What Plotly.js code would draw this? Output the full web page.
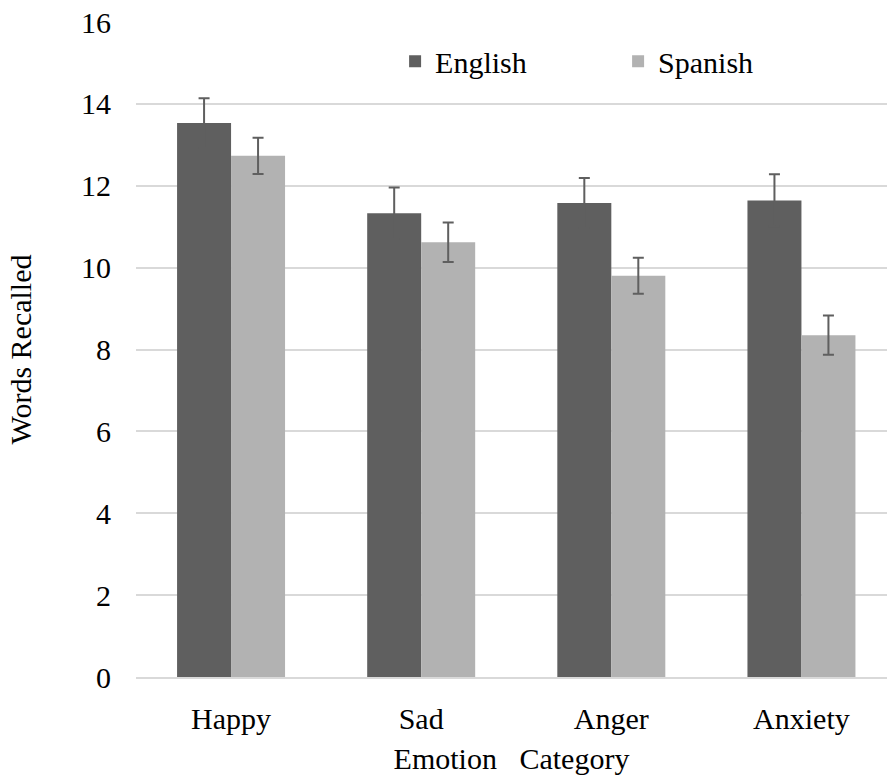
<!DOCTYPE html>
<html>
<head>
<meta charset="utf-8">
<script src="https://cdn.plot.ly/plotly-3.0.1.min.js"></script>
<style>html,body{margin:0;padding:0;background:#fff;}</style>
</head>
<body>
<div id="chart" style="width:887px;height:780px"></div>
<script>
const categories = ["Happy", "Sad", "Anger", "Anxiety"];
const englishMeans = [13.53, 11.33, 11.58, 11.64];
const englishErr = [0.61, 0.63, 0.61, 0.64];
const spanishMeans = [12.73, 10.62, 9.80, 8.35];
const spanishErr = [0.44, 0.48, 0.44, 0.48];
const yTicks = [0, 2, 4, 6, 8, 10, 12, 14, 16];

const fam = "Liberation Serif";
const txt = {family: fam, size: 30, color: "#000"};
const errStyle = {type: "data", visible: true, color: "#5f5f5f", thickness: 2, width: 5.5};

const traces = [
  {type: "bar", name: "English", x: categories, y: englishMeans,
   marker: {color: "#5f5f5f"},
   error_y: Object.assign({array: englishErr}, errStyle)},
  {type: "bar", name: "Spanish", x: categories, y: spanishMeans,
   marker: {color: "#b2b2b2"},
   error_y: Object.assign({array: spanishErr}, errStyle)}
];

const layout = {
  width: 887, height: 780,
  margin: {l: 136, r: 0, t: 22, b: 103},
  paper_bgcolor: "#fff", plot_bgcolor: "#fff",
  font: txt,
  barmode: "group", bargap: 0.432, bargroupgap: 0,
  showlegend: true,
  legend: {orientation: "h", x: 0.345, xanchor: "left", y: 0.94, yanchor: "middle",
           font: txt, entrywidth: 178, entrywidthmode: "pixels",
           bgcolor: "rgba(0,0,0,0)", traceorder: "normal"},
  xaxis: {type: "category", range: [-0.5, 3.45], showgrid: false, zeroline: false,
          showline: true, linecolor: "#d9d9d9", linewidth: 2, ticks: "",
          ticklabelstandoff: 14, tickfont: txt,
          title: {text: "Emotion\u00a0\u00a0 Category", font: txt, standoff: 14}},
  yaxis: {range: [0, 16], tickvals: yTicks, ticktext: yTicks.map(String),
          showgrid: true, gridcolor: "#d9d9d9", gridwidth: 2, zeroline: false,
          showline: false, ticks: "", ticklabelstandoff: 24, tickfont: txt,
          title: {text: "Words Recalled", font: txt, standoff: 40}}
};

Plotly.newPlot("chart", traces, layout, {displayModeBar: false});
</script>
</body>
</html>
